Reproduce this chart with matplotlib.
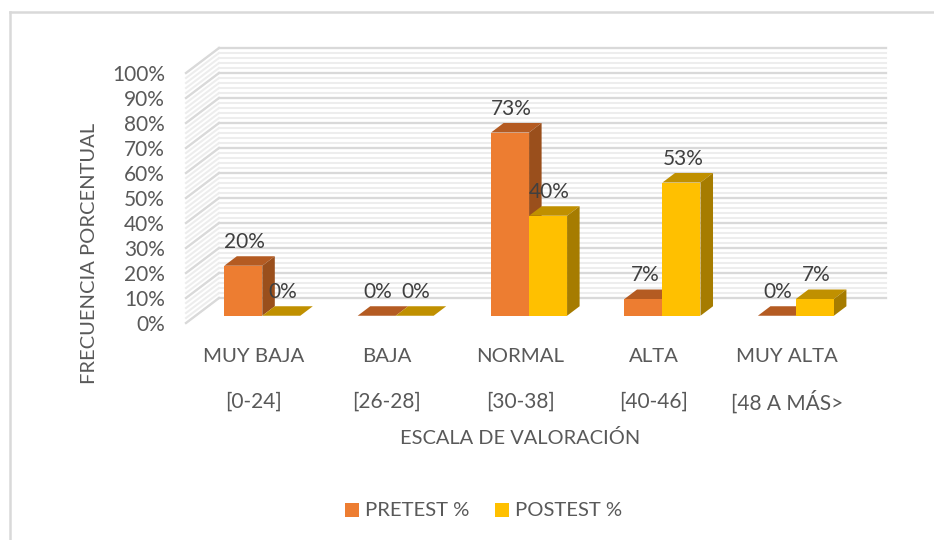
import numpy as np
import matplotlib
matplotlib.use("Agg")
import matplotlib.pyplot as plt

plt.rcParams['font.family'] = ['Lato', 'DejaVu Sans']

categorias = ["MUY BAJA", "BAJA", "NORMAL", "ALTA", "MUY ALTA"]
rangos = ["[0-24]", "[26-28]", "[30-38]", "[40-46]", "[48 A MÁS>"]
pretest = [20, 0, 73.3, 6.7, 0]
postest = [0, 0, 40, 53.3, 6.7]
etiq_pre = ["20%", "0%", "73%", "7%", "0%"]
etiq_post = ["0%", "0%", "40%", "53%", "7%"]
ticks = list(range(0, 101, 10))
ticks_menores = list(range(0, 101, 2))

col_pre = ("#ED7D31", "#B45B22", "#9A4F1C")
col_post = ("#FFC000", "#C09000", "#A67C00")
col_texto = "#404040"
col_ejes = "#595959"

# escala en pixeles: una categoria = 133.4 px, 1% = 2.5 px
PX_CAT = 133.4
PX_PCT = 2.5
X0, Y0 = 186, 323
DX = 33 / PX_CAT     # fondo del piso en x
DY = 25 / PX_PCT     # fondo del piso en y
Z1, Z2 = 0.29, 0.67  # profundidad de las barras
ANCHO = 38 / PX_CAT
FS = 15

fig = plt.figure(figsize=(9.34, 5.4), dpi=100)
ax = fig.add_axes([0, 0, 1, 1])
ax.set_xlim(-X0 / PX_CAT, (934 - X0) / PX_CAT)
ax.set_ylim((Y0 - 540) / PX_PCT, Y0 / PX_PCT)
ax.axis("off")


def px(x, y):
    return (x - X0) / PX_CAT, (Y0 - y) / PX_PCT


# marco: solo arriba y a la izquierda
bx, by = px(10.5, 11.5)
cx, cy = px(934, 540)
ax.plot([bx, bx], [cy, by], color="#D9D9D9", lw=1.8)
ax.plot([bx, cx], [by, by], color="#D9D9D9", lw=1.8)

# paredes
n = len(categorias)
for t in ticks_menores:
    ax.plot([0, DX], [t, t + DY], color="#EDEDED", lw=1.5, zorder=1)
    ax.plot([DX, n + DX], [t + DY, t + DY], color="#EDEDED", lw=1.5, zorder=1)
for t in ticks:
    ax.plot([0, DX], [t, t + DY], color="#D9D9D9", lw=1.6, zorder=2)
    ax.plot([DX, n + DX], [t + DY, t + DY], color="#D9D9D9", lw=1.6, zorder=2)
    xt, _ = px(165, 0)
    ax.text(xt, t, f"{t}%", ha="right", va="center_baseline", fontsize=FS, color=col_ejes)


def barra(x, v, cols, z):
    base = Z1 * DY
    izq, der = x + Z1 * DX, x + ANCHO + Z1 * DX
    prof = (Z2 - Z1)
    arriba = base + v
    ax.fill([izq, der, der + prof * DX, izq + prof * DX],
            [arriba, arriba, arriba + prof * DY, arriba + prof * DY],
            color=cols[1], lw=0, zorder=z)
    if v > 0:
        ax.fill([der, der + prof * DX, der + prof * DX, der],
                [base, base + prof * DY, arriba + prof * DY, arriba],
                color=cols[2], lw=0, zorder=z)
        ax.fill([izq, der, der, izq], [base, base, arriba, arriba],
                color=cols[0], lw=0, zorder=z)
    return (izq + der) / 2, arriba


centros = np.arange(n) + 0.5
for i in range(n):
    x1, a1 = barra(centros[i] - ANCHO, pretest[i], col_pre, 3)
    x2, a2 = barra(centros[i], postest[i], col_post, 4)
    ax.text(x1 + 0.01, a1 + 10.3, etiq_pre[i], ha="center", va="center_baseline",
            fontsize=FS, color=col_texto, zorder=6)
    ax.text(x2 + 0.01, a2 + 10.3, etiq_post[i], ha="center", va="center_baseline",
            fontsize=FS, color=col_texto, zorder=6)
    xc = centros[i] + 0.005
    ax.text(xc, px(0, 355)[1], categorias[i], ha="center", va="center_baseline", fontsize=14.7, color=col_ejes)
    ax.text(xc, px(0, 400)[1], rangos[i], ha="center", va="center_baseline", fontsize=FS, color=col_ejes)

ax.text(*px(520, 437), "ESCALA DE VALORACIÓN", ha="center", va="center_baseline", fontsize=14.4, color=col_ejes)
ax.text(*px(89.5, 253.5), "FRECUENCIA PORCENTUAL", ha="center", va="center", rotation=90,
        fontsize=14.5, color=col_ejes)

# leyenda
for x_ley, nombre, c in [(345, "PRETEST %", col_pre[0]), (495, "POSTEST %", col_post[0])]:
    x0, y0 = px(x_ley, 517)
    x1, y1 = px(x_ley + 14, 503)
    ax.fill([x0, x1, x1, x0], [y0, y0, y1, y1], color=c, lw=0)
    ax.text(px(x_ley + 20, 0)[0], px(0, 509)[1], nombre, ha="left", va="center_baseline",
            fontsize=14.6, color=col_ejes)

fig.savefig("out.png", dpi=100)
